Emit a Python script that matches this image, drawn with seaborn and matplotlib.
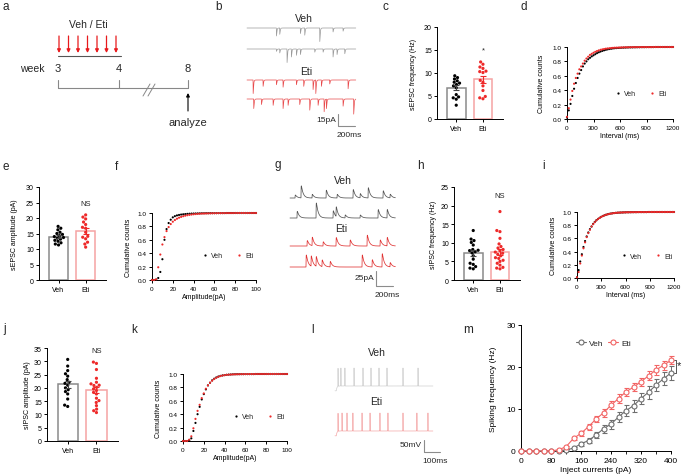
import numpy as np
import pandas as pd
import seaborn as sns
import matplotlib.pyplot as plt
from matplotlib.lines import Line2D

# ---------------- data ----------------
groups = ["Veh", "Eti"]

# bar + dot panels (one value per cell)
sepsc_freq_veh = [9.4, 9.0, 8.7, 8.3, 8.0, 7.8, 7.5, 7.2, 6.8, 5.3, 4.8, 4.6, 4.3, 3.0]
sepsc_freq_eti = [12.4, 11.9, 11.3, 11.0, 10.4, 10.3, 10.1, 8.4, 8.0, 7.2, 6.2, 4.9, 4.6, 4.4]
sepsc_amp_veh = [17.3, 16.7, 16.2, 15.4, 15.0, 14.7, 14.3, 14.0, 13.7, 13.5, 13.2, 12.8, 12.5, 12.0, 11.6, 11.3]
sepsc_amp_eti = [21.0, 20.3, 19.7, 18.7, 17.9, 17.0, 16.7, 15.4, 14.1, 13.8, 13.3, 12.2, 11.6, 10.6]
sipsc_freq_veh = [13.3, 11.0, 10.6, 10.1, 9.4, 8.0, 8.2, 7.9, 7.6, 7.3, 6.5, 5.6, 4.5, 4.2, 3.6, 3.2, 3.0]
sipsc_freq_eti = [18.4, 13.3, 13.0, 11.2, 9.7, 9.0, 8.6, 8.2, 7.9, 7.5, 7.2, 6.9, 6.5, 6.0, 5.8, 5.3,
                  5.0, 4.5, 4.0, 3.4, 3.2, 3.0]
sipsc_amp_veh = [30.7, 28.2, 26.5, 25.3, 24.4, 23.1, 22.1, 21.7, 21.0, 20.0, 19.3, 18.6, 17.7, 15.8, 13.5, 13.0]
sipsc_amp_eti = [29.7, 29.2, 26.9, 23.6, 22.1, 21.5, 21.0, 20.9, 20.2, 19.6, 19.0, 18.3, 17.7, 16.1,
                 15.2, 14.5, 13.3, 12.0, 11.4, 10.7]

# cumulative distributions
interval_ms = list(range(0, 1201, 20))
amplitude_pa = list(range(0, 101, 2))

sepsc_int_veh = [0.02, 0.12, 0.21, 0.32, 0.42, 0.50, 0.57, 0.63, 0.68, 0.73,
                 0.77, 0.80, 0.83, 0.85, 0.87, 0.885, 0.90, 0.915, 0.927, 0.937,
                 0.946, 0.954, 0.961, 0.967, 0.972, 0.976, 0.980, 0.983, 0.985, 0.987,
                 0.989, 0.990, 0.991, 0.992, 0.993, 0.994, 0.995, 0.995, 0.996, 0.996,
                 0.997, 0.997, 0.998, 0.998, 0.998, 0.999, 0.999, 0.999, 0.999, 0.999,
                 1.0, 1.0, 1.0, 1.0, 1.0, 1.0, 1.0, 1.0, 1.0, 1.0, 1.0]
sepsc_int_eti = [0.03, 0.15, 0.27, 0.39, 0.49, 0.57, 0.63, 0.69, 0.73, 0.77,
                 0.81, 0.84, 0.865, 0.89, 0.905, 0.92, 0.933, 0.944, 0.953, 0.961,
                 0.967, 0.972, 0.977, 0.980, 0.983, 0.986, 0.988, 0.990, 0.991, 0.992,
                 0.993, 0.994, 0.995, 0.996, 0.996, 0.997, 0.997, 0.998, 0.998, 0.998,
                 0.999, 0.999, 0.999, 0.999, 0.999, 0.999, 0.999, 0.999, 0.999, 1.0,
                 1.0, 1.0, 1.0, 1.0, 1.0, 1.0, 1.0, 1.0, 1.0, 1.0, 1.0]
sipsc_int_veh = [0.01, 0.12, 0.25, 0.36, 0.47, 0.56, 0.63, 0.69, 0.74, 0.78,
                 0.82, 0.85, 0.875, 0.895, 0.912, 0.927, 0.94, 0.95, 0.959, 0.966,
                 0.972, 0.977, 0.981, 0.984, 0.987, 0.989, 0.991, 0.992, 0.993, 0.994,
                 0.995, 0.996, 0.996, 0.997, 0.997, 0.998, 0.998, 0.998, 0.999, 0.999,
                 0.999, 0.999, 0.999, 0.999, 1.0, 1.0, 1.0, 1.0, 1.0, 1.0,
                 1.0, 1.0, 1.0, 1.0, 1.0, 1.0, 1.0, 1.0, 1.0, 1.0, 1.0]
sipsc_int_eti = [0.01, 0.09, 0.22, 0.34, 0.45, 0.54, 0.62, 0.68, 0.73, 0.78,
                 0.815, 0.845, 0.872, 0.893, 0.91, 0.925, 0.938, 0.949, 0.958, 0.965,
                 0.971, 0.976, 0.980, 0.984, 0.987, 0.989, 0.991, 0.992, 0.993, 0.994,
                 0.995, 0.996, 0.996, 0.997, 0.997, 0.998, 0.998, 0.998, 0.999, 0.999,
                 0.999, 0.999, 0.999, 0.999, 1.0, 1.0, 1.0, 1.0, 1.0, 1.0,
                 1.0, 1.0, 1.0, 1.0, 1.0, 1.0, 1.0, 1.0, 1.0, 1.0, 1.0]

sepsc_cum_amp_veh = [0.0, 0.0, 0.005, 0.03, 0.12, 0.31, 0.60, 0.76, 0.85, 0.90,
                     0.935, 0.953, 0.964, 0.971, 0.977, 0.981, 0.984, 0.987, 0.989, 0.991,
                     0.992, 0.993, 0.994, 0.995, 0.996, 0.996, 0.997, 0.997, 0.998, 0.998,
                     0.998, 0.999, 0.999, 0.999, 0.999, 0.999, 1.0, 1.0, 1.0, 1.0,
                     1.0, 1.0, 1.0, 1.0, 1.0, 1.0, 1.0, 1.0, 1.0, 1.0, 1.0]
sepsc_cum_amp_eti = [0.0, 0.0, 0.01, 0.19, 0.38, 0.53, 0.64, 0.73, 0.79, 0.835,
                     0.87, 0.895, 0.915, 0.93, 0.942, 0.952, 0.96, 0.967, 0.972, 0.977,
                     0.981, 0.984, 0.987, 0.989, 0.991, 0.992, 0.993, 0.994, 0.995, 0.996,
                     0.997, 0.997, 0.998, 0.998, 0.998, 0.999, 0.999, 0.999, 0.999, 0.999,
                     1.0, 1.0, 1.0, 1.0, 1.0, 1.0, 1.0, 1.0, 1.0, 1.0, 1.0]
sipsc_cum_amp_veh = [0.0, 0.0, 0.0, 0.01, 0.04, 0.15, 0.27, 0.40, 0.51, 0.62,
                     0.70, 0.77, 0.83, 0.87, 0.905, 0.93, 0.948, 0.962, 0.972, 0.979,
                     0.984, 0.988, 0.991, 0.993, 0.995, 0.996, 0.997, 0.997, 0.998, 0.998,
                     0.999, 0.999, 0.999, 0.999, 0.999, 1.0, 1.0, 1.0, 1.0, 1.0,
                     1.0, 1.0, 1.0, 1.0, 1.0, 1.0, 1.0, 1.0, 1.0, 1.0, 1.0]
sipsc_cum_amp_eti = [0.0, 0.0, 0.0, 0.02, 0.07, 0.19, 0.33, 0.45, 0.54, 0.64,
                     0.71, 0.78, 0.83, 0.87, 0.90, 0.925, 0.944, 0.958, 0.969, 0.977,
                     0.983, 0.987, 0.990, 0.992, 0.994, 0.995, 0.996, 0.997, 0.998, 0.998,
                     0.999, 0.999, 0.999, 0.999, 0.999, 1.0, 1.0, 1.0, 1.0, 1.0,
                     1.0, 1.0, 1.0, 1.0, 1.0, 1.0, 1.0, 1.0, 1.0, 1.0, 1.0]

# spiking frequency vs injected current (panel m)
inject_pa = [0, 20, 40, 60, 80, 100, 120, 140, 160, 180, 200, 220, 240, 260, 280, 300, 320, 340, 360, 380, 400]
spike_veh = [0, 0, 0, 0, 0, 0, 0.2, 0.7, 1.7, 2.5, 3.8, 5.3, 6.4, 8.1, 9.6, 10.8, 12.5, 14.0, 15.7, 17.2, 18.6]
spike_veh_sem = [0, 0, 0, 0, 0, 0, 0.2, 0.3, 0.5, 0.5, 0.7, 0.9, 1.1, 1.2, 1.3, 1.4, 1.4, 1.5, 1.5, 1.6, 1.6]
spike_eti = [0, 0, 0, 0, 0, 0.3, 1.0, 3.0, 4.2, 5.8, 7.6, 9.1, 10.9, 12.5, 14.1, 15.2, 16.5, 17.9, 19.3, 20.4, 21.6]
spike_eti_sem = [0, 0, 0, 0, 0, 0.2, 0.3, 0.4, 0.6, 0.7, 0.8, 0.9, 0.9, 1.0, 1.0, 1.0, 1.0, 1.1, 1.1, 1.0, 1.0]

# example traces: event times (ms) and amplitudes (pA / mV)
sepsc_veh1_t = [345, 384, 627, 678, 855, 1011, 1129]
sepsc_veh1_a = [10, 8, 7, 9, 17, 5, 4]
sepsc_veh2_t = [345, 384, 470, 521, 580, 627, 796, 894, 1011, 1058, 1149]
sepsc_veh2_a = [3, 5, 17, 10, 8, 7, 4, 4, 10, 7, 6]
sepsc_eti1_t = [71, 188, 345, 423, 580, 666, 776, 808, 874, 972, 1188]
sepsc_eti1_a = [17, 8, 6, 9, 6, 8, 12, 17, 8, 5, 11]
sepsc_eti2_t = [78, 169, 306, 423, 482, 619, 737, 835, 906, 933, 1129, 1254]
sepsc_eti2_a = [12, 7, 8, 12, 8, 7, 14, 8, 16, 12, 9, 19]

sipsc_veh1_t = [59, 129, 259, 424, 553, 741, 824, 918, 1094, 1176]
sipsc_veh1_a = [5, 20, 6, 13, 6, 14, 7, 17, 12, 6]
sipsc_veh2_t = [82, 306, 506, 541, 647, 824, 1035, 1141]
sipsc_veh2_a = [11, 25, 12, 16, 5, 5, 14, 14]
sipsc_eti1_t = [200, 259, 388, 541, 706, 906, 1059, 1141]
sipsc_eti1_a = [9, 14, 7, 14, 10, 18, 10, 14]
sipsc_eti2_t = [188, 247, 306, 376, 471, 847, 965, 1082, 1176]
sipsc_eti2_a = [20, 17, 16, 11, 9, 20, 12, 22, 7]

spikes_veh_t = [19, 37, 62, 119, 175, 225, 275, 325, 425, 519]
spikes_eti_t = [19, 44, 75, 112, 169, 219, 281, 331, 425, 512, 581]

weeks = [3, 4, 8]
injection_days = [0, 1, 2, 3, 4, 5, 6]

# ---------------- style ----------------
sns.set_theme(style="ticks")
plt.rcParams.update({
    "font.family": ["Liberation Sans", "DejaVu Sans"],
    "axes.linewidth": 0.7,
    "axes.edgecolor": "black",
    "xtick.major.width": 0.7,
    "ytick.major.width": 0.7,
    "xtick.major.size": 2.5,
    "ytick.major.size": 2.5,
    "xtick.major.pad": 1.5,
    "ytick.major.pad": 1.2,
    "xtick.color": "black",
    "ytick.color": "black",
    "axes.labelcolor": "black",
    "axes.labelpad": 2,
})

W, H = 685, 477
fig = plt.figure(figsize=(W / 100, H / 100), dpi=100)

VEH_EDGE, ETI_EDGE = "#8a8a8a", "#f5a3a3"
RED = "#ee2a2a"


def px_axes(left, top, right, bottom):
    return fig.add_axes([left / W, 1 - bottom / H, (right - left) / W, (bottom - top) / H])


def bar_panel(ax, veh, eti, ymax, ylabel, label_x, note=None, note_y=None, fs=5):
    df = pd.DataFrame({"group": ["Veh"] * len(veh) + ["Eti"] * len(eti), "value": veh + eti})
    sns.barplot(data=df, x="group", y="value", hue="group", order=groups,
                palette={"Veh": VEH_EDGE, "Eti": ETI_EDGE}, fill=False, errorbar=None,
                width=0.7, linewidth=1.1, ax=ax, legend=False)
    sns.swarmplot(data=df, x="group", y="value", hue="group", order=groups,
                  palette={"Veh": "black", "Eti": RED}, size=2.3, ax=ax, legend=False)
    stats = df.groupby("group")["value"].agg(["mean", "sem"])
    for i, g in enumerate(groups):
        ax.errorbar(i, stats.loc[g, "mean"], yerr=stats.loc[g, "sem"],
                    color="#444444" if g == "Veh" else RED, capsize=2.2,
                    elinewidth=0.8, capthick=0.8, zorder=6)
    ax.set_xlim(-0.72, 1.75)
    ax.set_ylim(0, ymax)
    ax.set_yticks(range(0, ymax + 1, 5))
    ax.set_xlabel("")
    ax.set_ylabel(ylabel, fontsize=fs)
    ax.yaxis.set_label_coords(label_x, 0.5)
    ax.tick_params(labelsize=fs)
    sns.despine(ax=ax)
    if note:
        ax.text(1, note_y, note, ha="center", va="center", fontsize=fs + 0.5)


def cum_panel(ax, x, veh, eti, xmax, xstep, xlabel, leg_x, leg_y, label_x):
    df = pd.DataFrame({"x": x + x, "y": veh + eti, "group": ["Veh"] * len(x) + ["Eti"] * len(x)})
    sns.scatterplot(data=df, x="x", y="y", hue="group", palette={"Veh": "black", "Eti": RED},
                    s=2.4, linewidth=0, ax=ax, legend=False, clip_on=False, zorder=3)
    ax.set_xlim(0, xmax)
    ax.set_ylim(0, 1.0)
    ax.set_xticks(range(0, xmax + 1, xstep))
    ax.set_yticks([0, 0.2, 0.4, 0.6, 0.8, 1.0])
    ax.set_yticklabels(["0.0", "0.2", "0.4", "0.6", "0.8", "1.0"])
    ax.tick_params(labelsize=4.6)
    ax.set_xlabel(xlabel, fontsize=5)
    ax.set_ylabel("Cumulative counts", fontsize=5)
    ax.yaxis.set_label_coords(label_x, 0.5)
    sns.despine(ax=ax)
    handles = [Line2D([], [], ls="", marker="o", ms=1.6, color="black", mec="none"),
               Line2D([], [], ls="", marker="o", ms=1.6, color=RED, mec="none")]
    ax.legend(handles, groups, loc="center left", bbox_to_anchor=(leg_x, leg_y), ncol=2,
              frameon=False, fontsize=5, handlelength=0.6, handletextpad=0.6,
              columnspacing=2.0, borderpad=0, borderaxespad=0)


# c, e, h, j: bars
bar_panel(px_axes(437, 28, 503, 120), sepsc_freq_veh, sepsc_freq_eti, 20,
          "sEPSC frequency (Hz)", -0.30, note="*", note_y=15.0, fs=5)
bar_panel(px_axes(39, 188, 106, 281), sepsc_amp_veh, sepsc_amp_eti, 30,
          "sEPSC amplitude (pA)", -0.31, note="NS", note_y=24.8)
bar_panel(px_axes(454, 188, 520, 281), sipsc_freq_veh, sipsc_freq_eti, 25,
          "sIPSC frequency (Hz)", -0.26, note="NS", note_y=22.8)
bar_panel(px_axes(47, 349, 118, 442), sipsc_amp_veh, sipsc_amp_eti, 35,
          "sIPSC amplitude (pA)", -0.22, note="NS", note_y=33.9)

# d, f, i, k: cumulative curves
cum_panel(px_axes(567, 48, 673, 120), interval_ms, sepsc_int_veh, sepsc_int_eti,
          1200, 300, "Interval (ms)", 0.46, 0.35, -0.21)
cum_panel(px_axes(152, 214, 256, 281), amplitude_pa, sepsc_cum_amp_veh, sepsc_cum_amp_eti,
          100, 20, "Amplitude(pA)", 0.49, 0.36, -0.19)
cum_panel(px_axes(577, 213, 674, 279), interval_ms, sipsc_int_veh, sipsc_int_eti,
          1200, 300, "Interval (ms)", 0.46, 0.33, -0.21)
cum_panel(px_axes(183, 375, 287, 442), amplitude_pa, sipsc_cum_amp_veh, sipsc_cum_amp_eti,
          100, 20, "Amplitude(pA)", 0.49, 0.36, -0.2)

# m: input-output curve
axm = px_axes(521, 326, 671, 452)
VEH_M, ETI_M = "#6e6e6e", "#f26464"
for y, e, c in [(spike_veh, spike_veh_sem, VEH_M), (spike_eti, spike_eti_sem, ETI_M)]:
    axm.errorbar(inject_pa, y, yerr=e, color=c, lw=0.8, marker="o", ms=3.6, mfc="white",
                 mec=c, mew=0.8, capsize=1.8, elinewidth=0.7, capthick=0.7, clip_on=False, zorder=3)
axm.set_xlim(0, 400)
axm.set_ylim(0, 30)
axm.set_xticks([0, 80, 160, 240, 320, 400])
axm.set_xticks(range(0, 401, 40), minor=True)
axm.set_yticks([0, 10, 20, 30])
axm.tick_params(labelsize=6)
axm.tick_params(which="minor", length=1.8, width=0.6)
axm.set_xlabel("Inject currents (pA)", fontsize=6)
axm.set_ylabel("Spiking frequency (Hz)", fontsize=6)
axm.yaxis.set_label_coords(-0.16, 0.5)
sns.despine(ax=axm)
mh = [Line2D([], [], color=VEH_M, lw=0.8, marker="o", ms=3.6, mfc="white", mew=0.8),
      Line2D([], [], color=ETI_M, lw=0.8, marker="o", ms=3.6, mfc="white", mew=0.8)]
axm.legend(mh, groups, loc="center", bbox_to_anchor=(0.55, 0.86), ncol=2, frameon=False,
           fontsize=6, handlelength=1.2, handletextpad=0.3, columnspacing=0.6, borderpad=0)
axm.plot([407, 413, 413, 407], [spike_eti[-1], spike_eti[-1], spike_veh[-1], spike_veh[-1]],
         color="#555555", lw=0.7, clip_on=False)
axm.text(416, (spike_eti[-1] + spike_veh[-1]) / 2 + 0.4, "*", fontsize=8, ha="left", va="center")

# ---------------- overlay: schematic, traces, labels ----------------
ov = fig.add_axes([0, 0, 1, 1], zorder=10)
ov.set_xlim(0, W)
ov.set_ylim(H, 0)
ov.axis("off")
ov.patch.set_alpha(0)

for lab, x, y in [("a", 3, 10), ("b", 215, 10), ("c", 383, 10), ("d", 521, 10),
                  ("e", 3, 170), ("f", 115, 170), ("g", 275, 168), ("h", 417, 169), ("i", 542, 169),
                  ("j", 3, 332), ("k", 131, 333), ("l", 311, 333), ("m", 463, 333)]:
    ov.text(x, y, lab, fontsize=8.5, va="baseline", ha="left")

# a: timeline schematic
week_px = {3: 58, 4: 119, 8: 188}
ov.text(88, 25, "Veh / Eti", ha="center", va="center", fontsize=7.5)
for d in injection_days:
    x = 59 + d * (116 - 59) / 6
    ov.annotate("", xy=(x, 54), xytext=(x, 37),
                arrowprops=dict(arrowstyle="-|>", color="#e8191c", lw=0.9, mutation_scale=5,
                                shrinkA=0, shrinkB=0))
ov.plot([58, 121], [57, 57], color="#555555", lw=0.8)
ov.text(32, 69, "week", ha="center", va="center", fontsize=7.5)
for w in weeks:
    ov.text(week_px[w], 69, str(w), ha="center", va="center", fontsize=8)
    ov.plot([week_px[w], week_px[w]], [81, 89], color="#888888", lw=0.8)
ov.plot([58, 188], [89, 89], color="#888888", lw=0.8)
ov.plot([143, 150], [97, 85], color="#888888", lw=0.7)
ov.plot([148, 155], [97, 85], color="#888888", lw=0.7)
ov.annotate("", xy=(188, 94), xytext=(188, 112),
            arrowprops=dict(arrowstyle="-|>", color="black", lw=0.8, mutation_scale=5,
                            shrinkA=0, shrinkB=0))
ov.text(188, 123, "analyze", ha="center", va="center", fontsize=8)


def psc_trace(times, amps, duration, tau_rise, tau_decay, dt=0.5):
    t = np.arange(0, duration, dt)
    v = np.zeros_like(t)
    probe = np.arange(0.05, 10 * tau_decay, 0.05)
    peak = ((1 - np.exp(-probe / tau_rise)) * np.exp(-probe / tau_decay)).max()
    for t0, a in zip(times, amps):
        s = t - t0
        on = s > 0
        v[on] += a / peak * (1 - np.exp(-s[on] / tau_rise)) * np.exp(-s[on] / tau_decay)
    return t, v


def spike_trace(times, duration, onset=8, step=20, height=75, dt=0.2):
    t = np.arange(0, duration, dt)
    v = np.where(t < onset, -step, -step * np.exp(-(t - onset) / 4))
    for ts in times:
        v = v + height * np.exp(-((t - ts) / 0.8) ** 2)
    return t, v


def scalebar(x, y, w, h, ytext, xtext, color="#8c8c8c"):
    ov.plot([x, x, x + w], [y - h, y, y], color=color, lw=0.8)
    ov.text(x - 2, y - h / 2 - 1, ytext, ha="right", va="center", fontsize=6)
    ov.text(x + w / 2 + 3, y + 9, xtext, ha="center", va="center", fontsize=6)


# b: sEPSC traces (inward, downward deflections)
sx, sy = 17 / 200, 12 / 15
for (tt, aa), y0, col in [((sepsc_veh1_t, sepsc_veh1_a), 29, "#9a9a9a"),
                          ((sepsc_veh2_t, sepsc_veh2_a), 50, "#9a9a9a"),
                          ((sepsc_eti1_t, sepsc_eti1_a), 81, "#e8484a"),
                          ((sepsc_eti2_t, sepsc_eti2_a), 100, "#e8484a")]:
    t, v = psc_trace(tt, aa, 1280, 0.6, 5)
    ov.plot(247 + t * sx, y0 + v * sy, color=col, lw=0.5)
ov.text(304, 19, "Veh", ha="center", va="center", fontsize=7.5)
ov.text(306, 72, "Eti", ha="center", va="center", fontsize=7.5)
scalebar(338, 127, 200 * sx, 15 * sy, "15pA", "200ms")

# g: sIPSC traces (upward deflections)
sx, sy = 17 / 200, 15 / 25
for (tt, aa), y0, col in [((sipsc_veh1_t, sipsc_veh1_a), 199, "#555555"),
                          ((sipsc_veh2_t, sipsc_veh2_a), 219, "#555555"),
                          ((sipsc_eti1_t, sipsc_eti1_a), 247, "#e03434"),
                          ((sipsc_eti2_t, sipsc_eti2_a), 268, "#e03434")]:
    t, v = psc_trace(tt, aa, 1240, 1.5, 22)
    ov.plot(290 + t * sx, y0 - v * sy, color=col, lw=0.55)
ov.text(343, 181, "Veh", ha="center", va="center", fontsize=7.5)
ov.text(341, 229, "Eti", ha="center", va="center", fontsize=7.5)
scalebar(376, 287, 200 * sx, 25 * sy, "25pA", "200ms")

# l: evoked spiking traces
sx, sy = 16 / 100, 12 / 50
for tt, y0, col in [(spikes_veh_t, 387, "#cfcfcf"), (spikes_eti_t, 432, "#f4a8a8")]:
    t, v = spike_trace(tt, 612)
    ov.plot(335 + t * sx, y0 - v * sy, color=col, lw=0.5)
ov.text(377, 353, "Veh", ha="center", va="center", fontsize=7.5)
ov.text(376, 402, "Eti", ha="center", va="center", fontsize=7.5)
scalebar(424, 453, 100 * sx, 50 * sy, "50mV", "100ms")

fig.savefig("out.png", dpi=100)
